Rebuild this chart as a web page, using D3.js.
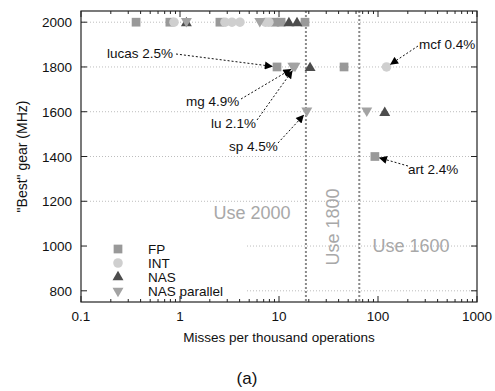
<!DOCTYPE html>
<html>
<head>
<meta charset="utf-8">
<script src="https://cdn.jsdelivr.net/npm/d3@7"></script>
<style>
  html, body { margin: 0; padding: 0; background: #fff; }
  svg { display: block; font-family: "Liberation Sans", Arial, Helvetica, sans-serif; }
</style>
</head>
<body>
<svg id="chart" width="495" height="391"></svg>
<script>
// Misses per thousand operations vs. best frequency gear, per benchmark suite
const fpMisses   = [0.36, 0.79, 2.53, 9.1, 10.5, 18.3, 9.55, 45.4, 93];
const fpGear     = [2000, 2000, 2000, 2000, 2000, 2000, 1800, 1800, 1400];

const intMisses  = [0.87, 2.85, 3.35, 4.03, 7.3, 7.9, 122];
const intGear    = [2000, 2000, 2000, 2000, 2000, 2000, 1800];

const nasMisses  = [1.16, 12.6, 15.2, 20.6, 117];
const nasGear    = [2000, 2000, 2000, 1800, 1600];

const nasParMisses = [1.16, 6.4, 13.8, 14.5, 19.1, 77];
const nasParGear   = [2000, 2000, 1800, 1800, 1600, 1600];

const seriesNames = ["FP", "INT", "NAS", "NAS parallel"];

const xTicks = [0.1, 1, 10, 100, 1000];
const yTicks = [800, 1000, 1200, 1400, 1600, 1800, 2000];

// Gear boundaries (misses per thousand ops) and region labels
const thresholds = [18.7, 64.7];
const regionLabels = ["Use 2000", "Use 1800", "Use 1600"];

// Labelled benchmarks: name, percentage, target point
const calloutNames  = ["lucas", "mcf", "mg", "lu", "sp", "art"];
const calloutPct    = ["2.5%", "0.4%", "4.9%", "2.1%", "4.5%", "2.4%"];
const calloutX      = [9.55, 122, 14.5, 14.5, 19.1, 93];
const calloutY      = [1800, 1800, 1800, 1800, 1600, 1400];

// ---- layout ----
const svg = d3.select("#chart");
const L = 81, R = 477, T = 11, B = 302;
const FS = 13.5;

const x = d3.scaleLog().domain([0.1, 1000]).range([L, R]);
const y = d3.scaleLinear().domain([750, 2050]).range([B, T]);

const series = [
  { name: seriesNames[0], xs: fpMisses,     ys: fpGear,     shape: d3.symbolSquare,   size: 76, fill: "#999999", rot: 0 },
  { name: seriesNames[1], xs: intMisses,    ys: intGear,    shape: d3.symbolCircle,   size: 72, fill: "#cfcfcf", rot: 0 },
  { name: seriesNames[2], xs: nasMisses,    ys: nasGear,    shape: d3.symbolTriangle, size: 52, fill: "#4d4d4d", rot: 0 },
  { name: seriesNames[3], xs: nasParMisses, ys: nasParGear, shape: d3.symbolTriangle, size: 52, fill: "#a3a3a3", rot: 180 }
];

// horizontal grid lines (lower ones stop short of the key)
const grid = svg.append("g");
yTicks.forEach(v => {
  const x0 = (v <= 1000) ? 247 : L;
  grid.append("line")
    .attr("x1", x0).attr("x2", R)
    .attr("y1", y(v)).attr("y2", y(v))
    .attr("stroke", "#bdbdbd").attr("stroke-width", 1)
    .attr("stroke-dasharray", "1,2");
});

// gear boundary lines
thresholds.forEach(t => {
  svg.append("line")
    .attr("x1", x(t)).attr("x2", x(t))
    .attr("y1", T).attr("y2", B)
    .attr("stroke", "#8a8a8a").attr("stroke-width", 2)
    .attr("stroke-dasharray", "2,2");
});

// region labels
const regionColor = "#a8a8a8";
svg.append("text").text(regionLabels[0])
  .attr("x", 252).attr("y", 219).attr("text-anchor", "middle")
  .attr("font-size", 18).attr("fill", regionColor);
svg.append("text").text(regionLabels[1])
  .attr("transform", "translate(339,227) rotate(-90)")
  .attr("text-anchor", "middle")
  .attr("font-size", 18).attr("fill", regionColor);
svg.append("text").text(regionLabels[2])
  .attr("x", 411).attr("y", 252).attr("text-anchor", "middle")
  .attr("font-size", 18).attr("fill", regionColor);

// frame
svg.append("rect")
  .attr("x", L).attr("y", T).attr("width", R - L).attr("height", B - T)
  .attr("fill", "none").attr("stroke", "#222").attr("stroke-width", 1.2);

// axes with inward ticks, mirrored on top/right
const axisG = svg.append("g").attr("stroke", "#222").attr("stroke-width", 1);
const minorX = [];
for (let d = 0.1; d < 1000; d *= 10) for (let k = 2; k <= 9; k++) minorX.push(d * k);
minorX.forEach(v => {
  axisG.append("line").attr("x1", x(v)).attr("x2", x(v)).attr("y1", B).attr("y2", B - 3);
  axisG.append("line").attr("x1", x(v)).attr("x2", x(v)).attr("y1", T).attr("y2", T + 3);
});
xTicks.forEach(v => {
  axisG.append("line").attr("x1", x(v)).attr("x2", x(v)).attr("y1", B).attr("y2", B - 6);
  axisG.append("line").attr("x1", x(v)).attr("x2", x(v)).attr("y1", T).attr("y2", T + 6);
});
yTicks.forEach(v => {
  axisG.append("line").attr("x1", L).attr("x2", L + 6).attr("y1", y(v)).attr("y2", y(v));
  axisG.append("line").attr("x1", R).attr("x2", R - 6).attr("y1", y(v)).attr("y2", y(v));
});

svg.append("g").selectAll("text").data(xTicks).join("text")
  .attr("x", d => x(d)).attr("y", B + 19)
  .attr("text-anchor", "middle").attr("font-size", FS).attr("fill", "#111")
  .text(d => d3.format("~g")(d));
svg.append("g").selectAll("text").data(yTicks).join("text")
  .attr("x", L - 9).attr("y", d => y(d) + 5)
  .attr("text-anchor", "end").attr("font-size", FS).attr("fill", "#111")
  .text(d => d);

svg.append("text").text("Misses per thousand operations")
  .attr("x", (L + R) / 2).attr("y", B + 40).attr("text-anchor", "middle")
  .attr("font-size", FS).attr("fill", "#111");
svg.append("text").text("\"Best\" gear (MHz)")
  .attr("transform", `translate(27,${(T + B) / 2}) rotate(-90)`)
  .attr("text-anchor", "middle").attr("font-size", 14).attr("fill", "#111");
svg.append("text").text("(a)")
  .attr("x", 247).attr("y", 384).attr("text-anchor", "middle")
  .attr("font-size", 17).attr("fill", "#111");

// data markers
const sym = d3.symbol();
series.forEach(s => {
  svg.append("g").selectAll("path").data(s.xs.map((v, i) => [v, s.ys[i]])).join("path")
    .attr("d", sym.type(s.shape).size(s.size)())
    .attr("transform", d => `translate(${x(d[0])},${y(d[1]) + (s.shape === d3.symbolTriangle ? (s.rot ? -1 : 1) : 0)}) rotate(${s.rot})`)
    .attr("fill", s.fill);
});

// callouts: label position relative to the marked point, and arrow
const calloutLayout = [
  { tx: 107, ty: 58, ax: 176, ay: 54 },
  { tx: 419, ty: 49, ax: 418, ay: 46 },
  { tx: 186, ty: 106, ax: 241, ay: 99 },
  { tx: 211, ty: 128, ax: 257, ay: 120 },
  { tx: 229, ty: 151, ax: 278, ay: 143 },
  { tx: 408, ty: 174, ax: 408, ay: 166 }
];
const defs = svg.append("defs");
defs.append("marker").attr("id", "ah")
  .attr("viewBox", "0 0 10 10").attr("refX", 9).attr("refY", 5)
  .attr("markerWidth", 10).attr("markerHeight", 8).attr("markerUnits", "userSpaceOnUse")
  .attr("orient", "auto")
  .append("path").attr("d", "M0,0 L10,5 L0,10 z").attr("fill", "#000");

calloutNames.forEach((n, i) => {
  const lay = calloutLayout[i];
  const px = x(calloutX[i]), py = y(calloutY[i]);
  const dx = px - lay.ax, dy = py - lay.ay, len = Math.hypot(dx, dy);
  const stop = 5;
  svg.append("line")
    .attr("x1", lay.ax).attr("y1", lay.ay)
    .attr("x2", px - dx / len * stop).attr("y2", py - dy / len * stop)
    .attr("stroke", "#111").attr("stroke-width", 1)
    .attr("stroke-dasharray", "2,2")
    .attr("marker-end", "url(#ah)");
  svg.append("text").text(`${n} ${calloutPct[i]}`)
    .attr("x", lay.tx).attr("y", lay.ty)
    .attr("font-size", FS).attr("fill", "#111");
});

// key
const key = svg.append("g");
series.forEach((s, i) => {
  const ky = 249 + i * 14;
  key.append("path")
    .attr("d", sym.type(s.shape).size(s.size)())
    .attr("transform", `translate(118,${ky}) rotate(${s.rot})`)
    .attr("fill", s.fill);
  key.append("text").text(s.name)
    .attr("x", 148).attr("y", ky + 5)
    .attr("font-size", FS).attr("fill", "#111");
});
</script>
</body>
</html>
